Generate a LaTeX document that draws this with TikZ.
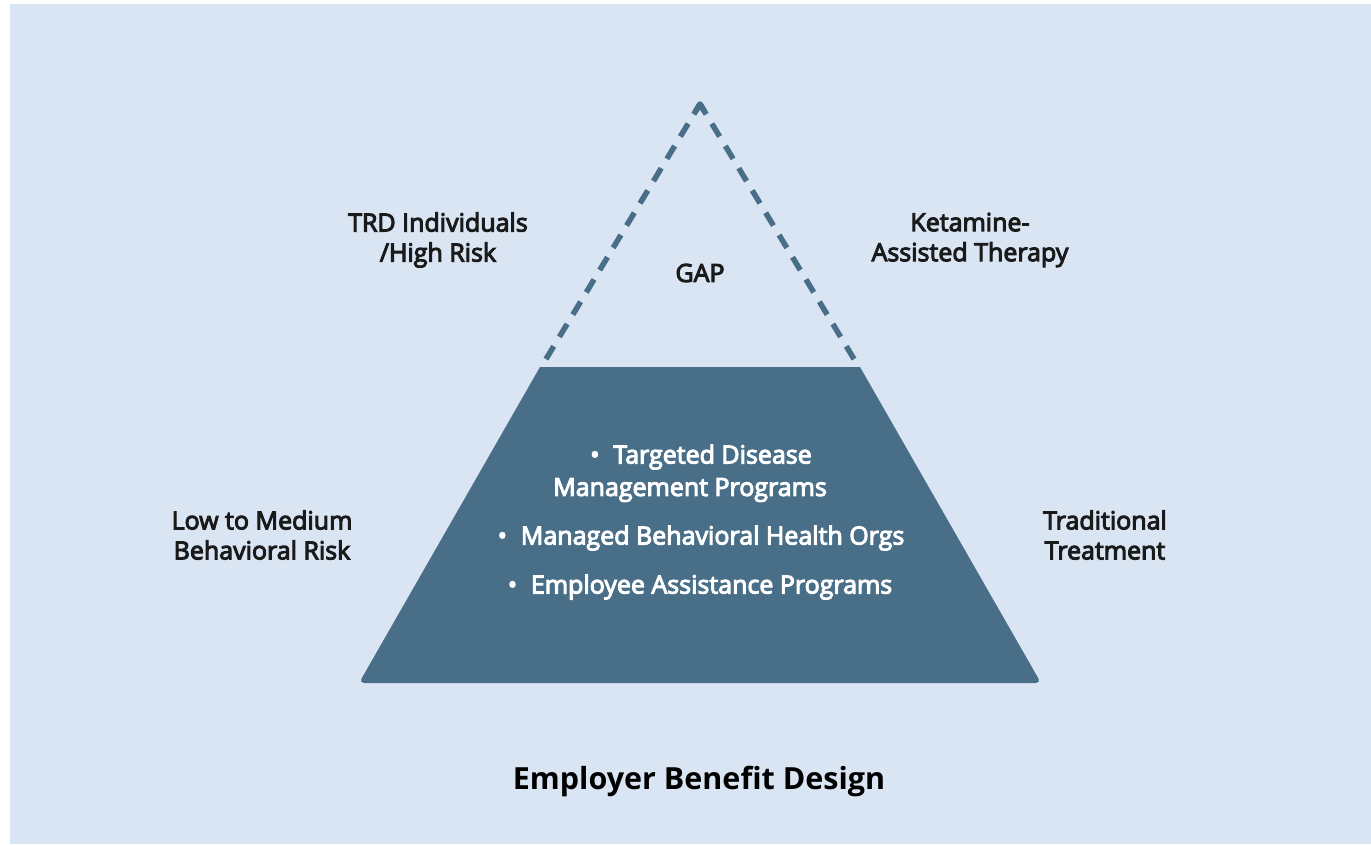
\documentclass[tikz,border=0pt]{standalone}
\usepackage{fontspec}
\setmainfont{Open Sans}
\newfontfamily\semibf[FakeBold=4]{Open Sans}
\usepackage{tikz}
\usetikzlibrary{positioning,calc}
\definecolor{bgblue}{RGB}{218,229,244}
\definecolor{pyrblue}{RGB}{72,110,136}
\definecolor{inkdark}{RGB}{26,26,26}
\tikzstyle{lab} = [font=\semibf\fontsize{25}{30}\selectfont, text=inkdark, align=center, inner sep=0pt]
\tikzstyle{item} = [font=\semibf\fontsize{25}{30}\selectfont, text=white, align=center, inner sep=0pt]
\tikzstyle{gap} = [draw=pyrblue, line width=5.5pt, dash pattern=on 15pt off 11pt, dash phase=3pt, line join=round]

\begin{document}
\begin{tikzpicture}[x=1pt,y=-1pt]
      \useasboundingbox (0,0) rectangle (1371,844);
      \fill [white] (0,0) rectangle (1371,844);
      \fill [bgblue] (10,4) rectangle (1371,844);

      % pyramid base
      \coordinate (tl) at (540,367);
      \coordinate (tr) at (860,367);
      \coordinate (bl) at (359,683);
      \coordinate (br) at (1041,683);
      \fill [pyrblue] (tl) [rounded corners=5pt] -- (bl) -- (br) [sharp corners] -- (tr) -- cycle;

      % dashed tip
      \coordinate (apex) at (700,104);
      \coordinate (lfoot) at (543,364);
      \coordinate (rfoot) at (857,364);
      \draw [gap] (apex) -- (lfoot);
      \draw [gap] (apex) -- (rfoot);
      \draw [pyrblue, line width=5.5pt, line join=round] ($(apex)!9pt!(lfoot)$) -- (apex) -- ($(apex)!9pt!(rfoot)$);

      \node [lab] (gaplab) at (700,273) {GAP};
      \node [lab] (trd) at (438,240) {TRD Individuals\\/High Risk};
      \node [lab] (ket) at (970,240) {Ketamine-\\Assisted Therapy};
      \node [lab] (low) at (262,535) {Low to Medium\\Behavioral Risk};
      \node [lab] (trad) at (1105,535) {Traditional\\Treatment};

      \node [item] (tdm) at (701,457) {\textbullet\hspace{0.55em}Targeted Disease};
      \node [item] (tdmb) at (690,490) {Management Programs};
      \node [item] (mbh) at (701,538) {\textbullet\hspace{0.55em}Managed Behavioral Health Orgs};
      \node [item] (eap) at (700,587) {\textbullet\hspace{0.55em}Employee Assistance Programs};

      \node [font=\bfseries\fontsize{30.5}{36}\selectfont, text=black, inner sep=0pt] (title) at (699,781) {Employer Benefit Design};
\end{tikzpicture}
\end{document}
